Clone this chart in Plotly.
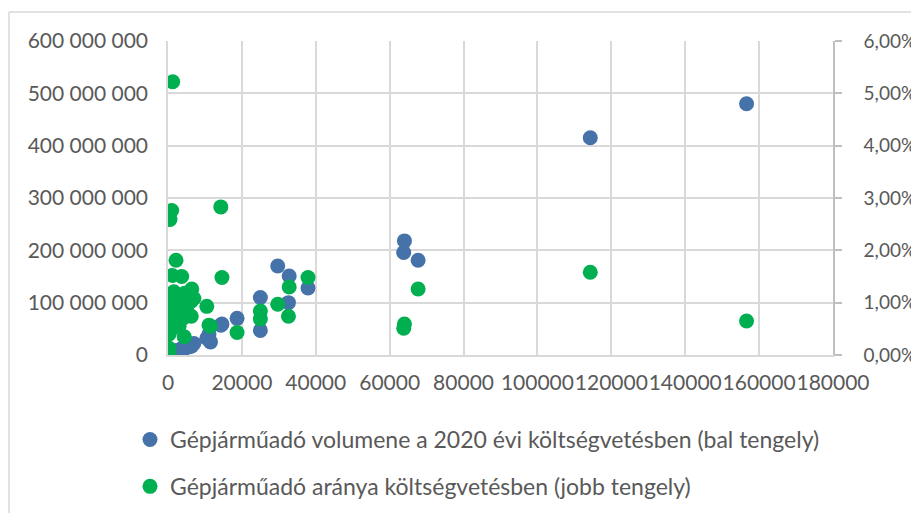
import plotly.graph_objects as go

# population (x), vehicle-tax volume (left axis), vehicle-tax share (right axis)
population = [156600, 114300, 64000, 63800, 67700, 37900, 32800, 29700, 32600, 25000,
              25000, 18700, 14600, 14300, 11100, 11500, 10500,
              1270, 1000, 540, 2170, 1170, 3710, 6430, 1600, 4500, 800,
              3500, 6300, 5800, 2400, 1300, 4000, 6300, 2000, 800, 4400,
              300, 300, 1500, 3000, 5000, 300, 7000, 2800]
volume = [480000000, 415000000, 218000000, 196000000, 181000000, 128000000, 151000000,
          170000000, 100000000, 110000000, 47000000, 70000000, 59000000, 57000000,
          40000000, 25000000, 32000000,
          4000000, 3000000, 2000000, 8000000, 4000000, 12000000, 18000000, 5000000,
          14000000, 2000000, 11000000, 20000000, 16000000, 7000000, 4000000, 10000000,
          17000000, 6000000, 2000000, 12000000, 1000000, 500000, 5000000, 9000000,
          15000000, 1000000, 22000000, 9000000]
share = [0.0065, 0.0158, 0.0059, 0.0051, 0.0126, 0.0148, 0.0130, 0.0097, 0.0074, 0.0084,
         0.0069, 0.0043, 0.0148, 0.0283, 0.0057, 0.0055, 0.0093,
         0.0522, 0.0276, 0.0259, 0.0181, 0.0152, 0.0150, 0.0126, 0.0121, 0.0118, 0.0101,
         0.0105, 0.0103, 0.0113, 0.0095, 0.0073, 0.0070, 0.0074, 0.0060, 0.0048, 0.0035,
         0.0013, 0.0002, 0.0085, 0.0055, 0.0088, 0.0040, 0.0108, 0.0112]

series_names = ["Gépjárműadó volumene a 2020 évi költségvetésben (bal tengely)",
                "Gépjárműadó aránya költségvetésben (jobb tengely)"]

x_ticks = [0, 20000, 40000, 60000, 80000, 100000, 120000, 140000, 160000, 180000]
left_ticks = [0, 100000000, 200000000, 300000000, 400000000, 500000000, 600000000]
right_ticks = [0, 0.01, 0.02, 0.03, 0.04, 0.05, 0.06]

FONT = "Lato, 'Open Sans', sans-serif"
TXT = "#595959"
GRID = "#d9d9d9"

fig = go.Figure()
fig.add_trace(go.Scatter(x=population, y=volume, mode="markers", name=series_names[0],
                         marker=dict(color="#4672AA", size=15, line=dict(width=0)),
                         yaxis="y", legendgroup="a"))
fig.add_trace(go.Scatter(x=population, y=share, mode="markers", name=series_names[1],
                         marker=dict(color="#00B050", size=15, line=dict(width=0)),
                         yaxis="y2", legendgroup="b"))

# the page body adds an 8 px offset, so the figure is 8 px smaller
OFF = 8
W, H = 919 - OFF, 513 - OFF
L, R, T, B = 168 - OFF, 86, 41 - OFF, 158
pw, ph = W - L - R, H - T - B

def px(xp):
    return (xp - OFF - L) / pw

def py(yp):
    return (H - B - (yp - OFF)) / ph

fig.update_layout(
    width=W, height=H, autosize=False,
    margin=dict(l=L, r=R, t=T, b=B, pad=0, autoexpand=False),
    paper_bgcolor="white", plot_bgcolor="white",
    separators=", ",
    font=dict(family=FONT, size=21, color=TXT),
    xaxis=dict(range=[0, 180000], tickvals=x_ticks, tickformat="d", tickangle=0,
               showgrid=True, gridcolor=GRID, gridwidth=1.5,
               showline=True, linecolor=GRID, linewidth=1.5,
               zeroline=False, ticks="", ticklabelstandoff=8, automargin=False,
               tickfont=dict(family=FONT, size=21, color=TXT)),
    yaxis=dict(range=[0, 600000000], tickvals=left_ticks, tickformat=",d",
               showgrid=True, gridcolor=GRID, gridwidth=1.5,
               showline=True, linecolor=GRID, linewidth=1.5,
               zeroline=False, ticks="", ticklabelstandoff=14, automargin=False,
               tickfont=dict(family=FONT, size=21, color=TXT)),
    yaxis2=dict(range=[0, 0.06], tickvals=right_ticks, tickformat=".2%",
                overlaying="y", side="right", showgrid=False,
                showline=True, linecolor="#bfbfbf", linewidth=1.5,
                ticks="outside", ticklen=7, tickcolor="#bfbfbf", tickwidth=1.5,
                zeroline=False, ticklabelstandoff=18, automargin=False,
                tickfont=dict(family=FONT, size=19, color=TXT)),
    showlegend=True,
    legend=dict(x=px(130), y=py(463), xanchor="left", yanchor="middle",
                orientation="v", traceorder="grouped", tracegroupgap=14,
                bgcolor="rgba(0,0,0,0)", font=dict(family=FONT, size=23, color=TXT),
                itemwidth=30),
    shapes=[
        dict(type="line", xref="paper", yref="paper", x0=px(9), x1=px(919), y0=py(12), y1=py(12),
             line=dict(color=GRID, width=1.5)),
        dict(type="line", xref="paper", yref="paper", x0=px(9), x1=px(9), y0=py(12), y1=py(513),
             line=dict(color=GRID, width=1.5)),
    ],
)

fig.write_html("out.html")
